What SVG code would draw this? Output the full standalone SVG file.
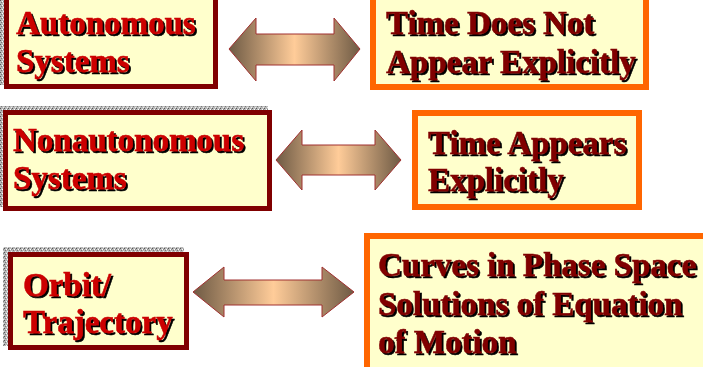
<svg xmlns="http://www.w3.org/2000/svg" width="703" height="367" viewBox="0 0 703 367">
<defs>
<pattern id="tex" width="4" height="4" patternUnits="userSpaceOnUse">
<rect width="4" height="4" fill="#b8b8b8"/>
<rect x="0" y="0" width="1" height="1" fill="#555"/>
<rect x="2" y="1" width="1" height="1" fill="#ffffff"/>
<rect x="1" y="2" width="1" height="1" fill="#777"/>
<rect x="3" y="3" width="1" height="1" fill="#eeeeee"/>
<rect x="3" y="1" width="1" height="1" fill="#888"/>
</pattern>
<linearGradient id="ag" x1="0" y1="0" x2="1" y2="0">
<stop offset="0" stop-color="#6e5a44"/>
<stop offset="0.5" stop-color="#ffcc99"/>
<stop offset="1" stop-color="#6e5a44"/>
</linearGradient>
<filter id="ts" x="-5%" y="-20%" width="115%" height="150%">
<feOffset in="SourceAlpha" dx="2" dy="2" result="o"/>
<feFlood flood-color="#000"/>
<feComposite in2="o" operator="in" result="s"/>
<feMerge><feMergeNode in="s"/><feMergeNode in="SourceGraphic"/></feMerge>
</filter>
</defs>
<style>
.sh{fill:url(#tex)}
.lf{fill:#ffffcc;stroke:#800000;stroke-width:5}
.rf{fill:#ffffcc;stroke:#ff6600;stroke-width:6}
text{font-family:"Liberation Serif","Times New Roman",serif;font-weight:bold;font-size:33px;stroke-width:0.5;filter:url(#ts)}
.lt{fill:#cc0000;stroke:#cc0000}
.rt{fill:#800000;stroke:#800000}
.arr{fill:url(#ag);stroke:#a03030;stroke-width:1}
</style>
<g id="autonomous">
<rect class="sh" x="0" y="-20" width="213" height="105"/>
<rect class="lf" x="6.5" y="-15" width="209" height="101.5"/>
<text class="lt" x="16" y="34">Autonomous</text>
<text class="lt" x="16" y="72">Systems</text>
</g>
<g id="nonautonomous">
<rect class="sh" x="0" y="106" width="268" height="101"/>
<rect class="lf" x="5.5" y="112.5" width="264" height="96"/>
<text class="lt" x="13" y="151">Nonautonomous</text>
<text class="lt" x="13" y="189">Systems</text>
</g>
<g id="orbit">
<rect class="sh" x="3" y="247" width="181" height="99"/>
<rect class="lf" x="10.5" y="254.5" width="176" height="93"/>
<text class="lt" x="23" y="296">Orbit/</text>
<text class="lt" x="23" y="333">Trajectory</text>
</g>
<g id="time-not">
<rect class="rf" x="373" y="-15" width="273" height="102"/>
<text class="rt" x="386" y="34">Time Does Not</text>
<text class="rt" x="386" y="73">Appear Explicitly</text>
</g>
<g id="time-appears">
<rect class="rf" x="415" y="113" width="224" height="94"/>
<text class="rt" x="428" y="154">Time Appears</text>
<text class="rt" x="428" y="191">Explicitly</text>
</g>
<g id="curves">
<rect class="rf" x="367" y="236" width="350" height="140"/>
<text class="rt" x="378" y="276">Curves in Phase Space</text>
<text class="rt" x="378" y="315">Solutions of Equation</text>
<text class="rt" x="378" y="353">of Motion</text>
</g>
<g id="connectors">
<polygon class="arr" points="229,49 256,18 256,34 334,34 334,18 360,49 334,81 334,65 256,65 256,81"/>
<polygon class="arr" points="276,160 302,130 302,145 375,145 375,130 401,160 375,190 375,175 302,175 302,190"/>
<polygon class="arr" points="193,292 224,267 224,280 322,280 322,267 354,292 322,317 322,305 224,305 224,317"/>
</g>
</svg>
